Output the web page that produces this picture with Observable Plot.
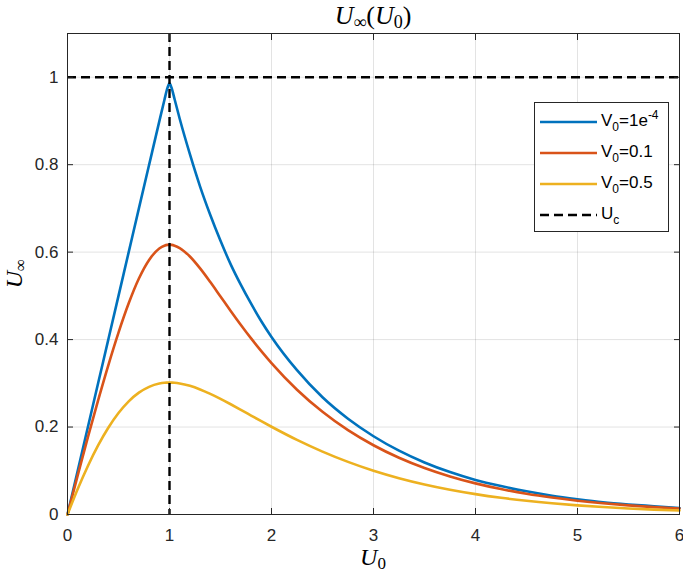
<!DOCTYPE html>
<html>
<head>
<meta charset="utf-8">
<script src="https://cdn.jsdelivr.net/npm/d3@7"></script>
<script src="https://cdn.jsdelivr.net/npm/@observablehq/plot@0.6"></script>
<style>
  html, body { margin: 0; padding: 0; background: #fff; }
  #chart { width: 683px; height: 574px; }
</style>
</head>
<body>
<div id="chart"></div>
<script>
// ---- data ----
const U0 = [0, 0.1, 0.2, 0.3, 0.4, 0.5, 0.6, 0.7, 0.8, 0.9,
            0.95, 0.98, 1, 1.02, 1.05,
            1.1, 1.2, 1.3, 1.4, 1.5, 1.6, 1.7, 1.8, 1.9, 2,
            2.25, 2.5, 2.75, 3, 3.25, 3.5, 3.75, 4, 4.25, 4.5, 4.75, 5, 5.25, 5.5, 5.75, 6];
const Uinf_V1e4 = [0, 0.1, 0.2, 0.3, 0.4, 0.5, 0.6, 0.7, 0.7996, 0.899,
            0.948, 0.9755, 0.986, 0.9758, 0.9497,
            0.905, 0.824, 0.75, 0.685, 0.626, 0.572, 0.525, 0.482, 0.442, 0.406,
            0.330, 0.268, 0.219, 0.179, 0.146, 0.119, 0.097, 0.079, 0.065, 0.053, 0.043, 0.035, 0.028, 0.023, 0.019, 0.015];
const Uinf_V01 = [0, 0.0895, 0.1768, 0.2611, 0.3413, 0.416, 0.483, 0.5397, 0.5822, 0.6083,
            0.6148, 0.6166, 0.617, 0.6166, 0.6148,
            0.6094, 0.590, 0.5628, 0.5316, 0.4986, 0.4656, 0.4335, 0.4027, 0.3736, 0.3463,
            0.2854, 0.2349, 0.1929, 0.1584, 0.1298, 0.1064, 0.0871, 0.0712, 0.0582, 0.0474, 0.0387, 0.0315, 0.0256, 0.0208, 0.0169, 0.0137];
const Uinf_V05 = [0, 0.0582, 0.111, 0.1579, 0.1983, 0.232, 0.2587, 0.2786, 0.2919, 0.2994,
            0.3012, 0.3016, 0.3018, 0.3016, 0.3012,
            0.2997, 0.2942, 0.286, 0.2758, 0.2644, 0.2521, 0.2393, 0.2263, 0.2133, 0.2007,
            0.1706, 0.1438, 0.1203, 0.1001, 0.0831, 0.0687, 0.0566, 0.0466, 0.0382, 0.0313, 0.0256, 0.0209, 0.0170, 0.0138, 0.0112, 0.0091];
const Uc = [1];          // vertical dashed line at U0 = Uc
const Uref = [1];        // horizontal dashed line at U_inf = 1
const xTicks = [0, 1, 2, 3, 4, 5, 6];
const yTicks = [0, 0.2, 0.4, 0.6, 0.8, 1];
const legendLabels = ["V_0=1e^{-4}", "V_0=0.1", "V_0=0.5", "U_c"];
const seriesColors = ["#0072BD", "#D95319", "#EDB120"];

// ---- build tables ----
const seriesValues = [Uinf_V1e4, Uinf_V01, Uinf_V05];
const tables = seriesValues.map(vals => U0.map((x, i) => ({x, y: vals[i]})));

const ink = "#262626";
const dash = "9,5";
const sans = "'Liberation Sans', Arial, sans-serif";

const chart = Plot.plot({
  width: 683,
  height: 574,
  marginTop: 33,
  marginBottom: 60,
  marginLeft: 67,
  marginRight: 4,
  style: {fontFamily: sans, fontSize: "17px", color: ink, background: "#fff", overflow: "visible"},
  x: {domain: [0, 6], label: null},
  y: {domain: [0, 1.1], label: null},
  marks: [
    Plot.gridX(xTicks, {stroke: ink, strokeOpacity: 0.13, strokeWidth: 1}),
    Plot.gridY(yTicks, {stroke: ink, strokeOpacity: 0.13, strokeWidth: 1}),
    ...tables.map((t, i) => Plot.line(t, {x: "x", y: "y", stroke: seriesColors[i], strokeWidth: 2.6, curve: "monotone-x"})),
    Plot.ruleX(Uc, {x: d => d, stroke: "#000", strokeWidth: 2.4, strokeDasharray: dash}),
    Plot.ruleY(Uref, {y: d => d, stroke: "#000", strokeWidth: 2.4, strokeDasharray: dash}),
    Plot.frame({stroke: ink, strokeWidth: 1}),
    // tick labels
    Plot.axisX({ticks: xTicks, tickFormat: d => String(d), tickSize: 0, tickPadding: 14, fontSize: 17, fill: ink, label: null}),
    Plot.axisY({ticks: yTicks, tickFormat: d => String(d), tickSize: 0, tickPadding: 9, fontSize: 17, fill: ink, label: null}),
    // inward tick marks on all four sides
    Plot.axisX({ticks: xTicks, anchor: "bottom", tickSize: 6, dy: -6, tickFormat: () => "", label: null}),
    Plot.axisX({ticks: xTicks, anchor: "top", tickSize: 6, dy: 6, tickFormat: () => "", label: null}),
    Plot.axisY({ticks: yTicks, anchor: "left", tickSize: 6, dx: 6, tickFormat: () => "", label: null}),
    Plot.axisY({ticks: yTicks, anchor: "right", tickSize: 6, dx: -6, tickFormat: () => "", label: null})
  ]
});
document.getElementById("chart").appendChild(chart);

// ---- title, axis labels, legend ----
const svg = d3.select(chart);
const xs = chart.scale("x"), ys = chart.scale("y");
const cx = (xs.apply(0) + xs.apply(6)) / 2;
const cy = (ys.apply(0) + ys.apply(1.1)) / 2;
const serif = "'Liberation Serif', 'Times New Roman', serif";

function mathLabel(g, main, sub, subSize, shift) {
  g.append("tspan").attr("font-style", "italic").text(main);
  g.append("tspan").attr("font-size", subSize + "px").attr("dy", shift).text(sub);
}

// title U_inf(U_0)
const title = svg.append("text")
  .attr("x", cx).attr("y", 24).attr("text-anchor", "middle")
  .attr("fill", "#000").style("font-family", serif).style("font-size", "26px");
title.append("tspan").attr("font-style", "italic").text("U");
title.append("tspan").attr("font-size", "18px").attr("dy", 4).text("∞");
title.append("tspan").attr("dy", -4).text("(");
title.append("tspan").attr("font-style", "italic").text("U");
title.append("tspan").attr("font-size", "18px").attr("dy", 4).text("0");
title.append("tspan").attr("dy", -4).text(")");

// x label U_0
const xl = svg.append("text")
  .attr("x", cx).attr("y", 565).attr("text-anchor", "middle")
  .attr("fill", "#000").style("font-family", serif).style("font-size", "24px");
mathLabel(xl, "U", "0", 17, 4);

// y label U_inf
const yl = svg.append("text")
  .attr("transform", `translate(22,${cy}) rotate(-90)`).attr("text-anchor", "middle")
  .attr("fill", "#000").style("font-family", serif).style("font-size", "24px");
mathLabel(yl, "U", "∞", 17, 4);

// legend
const leg = svg.append("g").style("font-family", sans).style("font-size", "17px");
leg.append("rect").attr("x", 534.5).attr("y", 102.5).attr("width", 134).attr("height", 129)
  .attr("fill", "#fff").attr("stroke", ink).attr("stroke-width", 1);
const rowY = [122, 153, 184, 215];
legendLabels.forEach((lab, i) => {
  const y = rowY[i];
  leg.append("line").attr("x1", 540).attr("x2", 597).attr("y1", y).attr("y2", y)
    .attr("stroke", i < 3 ? seriesColors[i] : "#000").attr("stroke-width", i < 3 ? 2.6 : 2.4)
    .attr("stroke-dasharray", i < 3 ? null : dash);
  const t = leg.append("text").attr("x", 601).attr("y", y + 4)
    .attr("text-anchor", "start").attr("fill", "#000");
  // tiny parser: X_s for subscript, ^{..} for superscript
  const m = lab.match(/^([^_]+)_(.)([^\^]*)(?:\^\{(.+)\})?$/);
  t.append("tspan").text(m[1]);
  t.append("tspan").attr("font-size", "12px").attr("dy", 5).text(m[2]);
  if (m[3]) t.append("tspan").attr("dy", -5).text(m[3]);
  if (m[4]) t.append("tspan").attr("font-size", "12px").attr("dy", -7).text(m[4]);
});
</script>
</body>
</html>
